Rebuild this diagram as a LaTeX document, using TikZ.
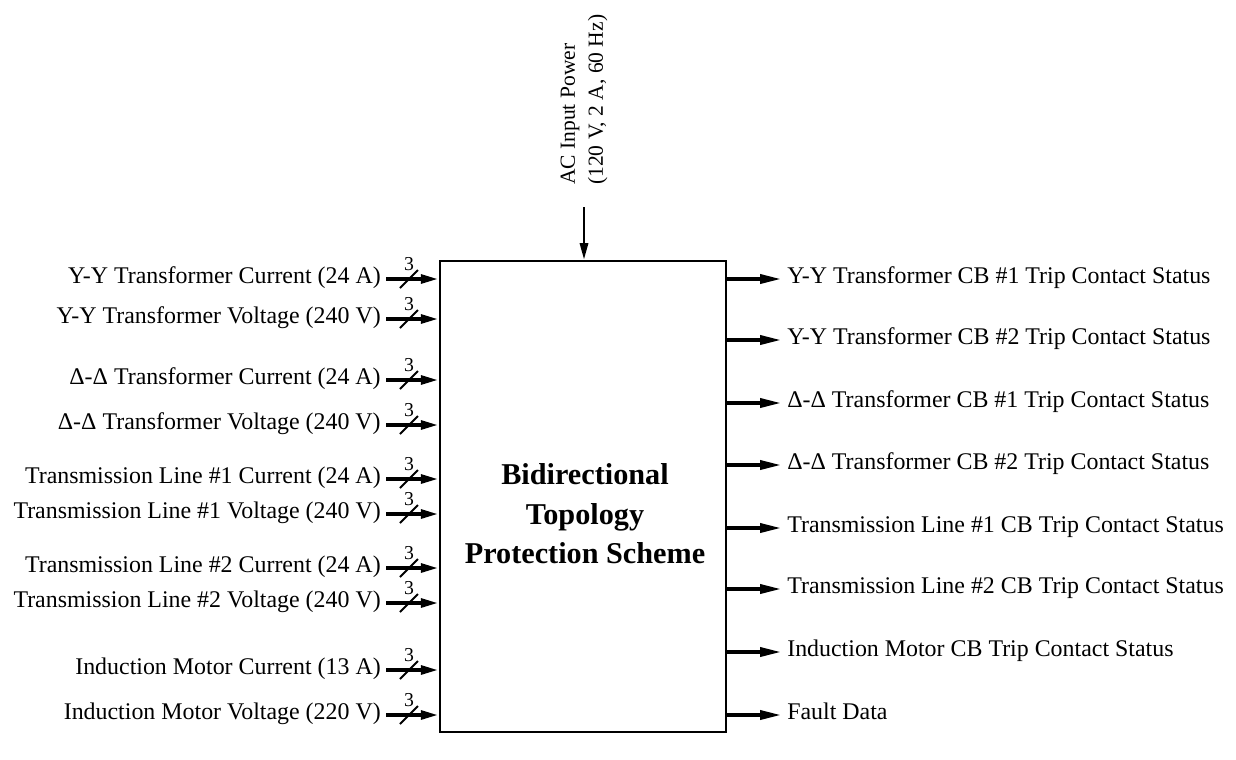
\documentclass[tikz,border=0pt]{standalone}
\usepackage{fontspec}
\setmainfont{Liberation Serif}
\usetikzlibrary{arrows.meta,positioning,calc}

\begin{document}
\begin{tikzpicture}[
  x=0.025cm, y=-0.025cm,
  font=\fontsize{17}{20}\selectfont,
  sig/.style={line width=2.85pt, -{Triangle[length=0.55cm, width=0.22cm]}},
  sigin/.style={line width=2.85pt, -{Triangle[length=0.45cm, width=0.21cm]}},
  pwr/.style={line width=2.1pt, -{Triangle[length=0.42cm, width=0.2cm]}},
  blk/.style={draw, line width=1.4pt, minimum width=7.15cm, minimum height=11.775cm, inner sep=0pt},
  ttl/.style={font=\fontsize{21.5}{28}\selectfont\bfseries, align=center},
  inlbl/.style={anchor=east, inner xsep=0.125cm, inner ysep=0pt, text height=0.75em, text depth=0.09em},
  outlbl/.style={anchor=west, inner xsep=0.125cm, inner ysep=0pt, text height=0.75em, text depth=0.09em},
  cnt/.style={font=\fontsize{14}{16}\selectfont, inner sep=0pt},
  supply/.style={rotate=90, anchor=west, align=left, inner xsep=0.55cm, inner ysep=0pt, font=\fontsize{15.3}{19.9}\selectfont},
]
\useasboundingbox (0,0) rectangle (1236,759);
% protection scheme block
\node[blk] (pps) at (583,496.5) {};
\node[ttl] (ttl) at (585,514) {Bidirectional\\Topology\\Protection Scheme};
% measured inputs on the left
\node[inlbl] (in1) at (386,279) {Y-Y Transformer Current (24 A)};
\node[inlbl] (in2) at (386,319) {Y-Y Transformer Voltage (240 V)};
\node[inlbl] (in3) at (386,380) {Δ-Δ Transformer Current (24 A)};
\node[inlbl] (in4) at (386,425) {Δ-Δ Transformer Voltage (240 V)};
\node[inlbl] (in5) at (386,479) {Transmission Line \#1 Current (24 A)};
\node[inlbl] (in6) at (386,514) {Transmission Line \#1 Voltage (240 V)};
\node[inlbl] (in7) at (386,568) {Transmission Line \#2 Current (24 A)};
\node[inlbl] (in8) at (386,603) {Transmission Line \#2 Voltage (240 V)};
\node[inlbl] (in9) at (386,670) {Induction Motor Current (13 A)};
\node[inlbl] (in10) at (386,715) {Induction Motor Voltage (220 V)};
\foreach \i in {1,...,10} {
  \draw[sigin] (in\i.east) -- (pps.west |- in\i.east);
  \draw[line width=1.4pt] ($(in\i.east)+(14,9)$) -- ($(in\i.east)+(32,-9)$);
  \node[cnt] (n\i) at ($(in\i.east)+(23,-15)$) {3};
}
% trip and data outputs on the right
\node[outlbl] (out1) at (782,279) {Y-Y Transformer CB \#1 Trip Contact Status};
\node[outlbl] (out2) at (782,340) {Y-Y Transformer CB \#2 Trip Contact Status};
\node[outlbl] (out3) at (782,403) {Δ-Δ Transformer CB \#1 Trip Contact Status};
\node[outlbl] (out4) at (782,465) {Δ-Δ Transformer CB \#2 Trip Contact Status};
\node[outlbl] (out5) at (782,528) {Transmission Line \#1 CB Trip Contact Status};
\node[outlbl] (out6) at (782,589) {Transmission Line \#2 CB Trip Contact Status};
\node[outlbl] (out7) at (782,652) {Induction Motor CB Trip Contact Status};
\node[outlbl] (out8) at (782,715) {Fault Data};
\foreach \i in {1,...,8} { \draw[sig] (pps.east |- out\i.west) -- (out\i.west); }
% supply from the top
\node[supply] (acin) at (584,207) {AC Input Power\\(120 V, 2 A, 60 Hz)};
\draw[pwr] (acin.west) -- (acin.west |- pps.north);
\end{tikzpicture}
\end{document}
